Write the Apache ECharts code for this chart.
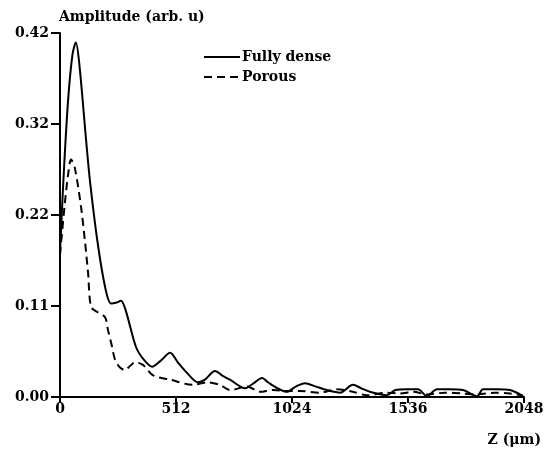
<!DOCTYPE html>
<html>
<head>
<meta charset="utf-8">
<script src="https://cdn.jsdelivr.net/npm/echarts@6/dist/echarts.min.js"></script>
<style>html,body{margin:0;padding:0;background:#fff}#c{width:551px;height:453px}</style>
</head>
<body>
<div id="c"></div>
<script>
const xTicks = [0, 512, 1024, 1536, 2048];
const yTickLabels = ['0.00', '0.11', '0.22', '0.32', '0.42'];
const seriesNames = ['Fully dense', 'Porous'];

const denseZ = [0, 15, 35, 55, 70, 85, 115, 132, 165, 199, 225, 250, 269, 290, 335, 370, 406, 445, 486, 520, 560, 609, 640, 684, 720, 750, 817, 850, 892, 918, 960, 1002, 1040, 1081, 1130, 1178, 1236, 1293, 1330, 1368, 1443, 1480, 1530, 1580, 1620, 1664, 1720, 1779, 1841, 1867, 1930, 1986, 2044];
const denseAmp = [0.166, 0.25, 0.34, 0.395, 0.409, 0.385, 0.297, 0.25, 0.18, 0.127, 0.108, 0.109, 0.111, 0.100, 0.058, 0.043, 0.035, 0.042, 0.051, 0.040, 0.028, 0.017, 0.020, 0.030, 0.024, 0.020, 0.010, 0.015, 0.022, 0.017, 0.010, 0.006, 0.012, 0.016, 0.012, 0.008, 0.005, 0.014, 0.010, 0.006, 0.002, 0.008, 0.009, 0.009, 0.001, 0.009, 0.009, 0.008, 0.001, 0.009, 0.009, 0.008, 0.001];

const porousZ = [0, 20, 35, 49, 65, 93, 110, 124, 137, 165, 199, 212, 228, 243, 265, 287, 310, 331, 366, 411, 486, 587, 649, 706, 750, 825, 883, 940, 1000, 1059, 1148, 1222, 1293, 1355, 1443, 1500, 1560, 1620, 1700, 1779, 1841, 1920, 1986, 2040];
const porousAmp = [0.164, 0.22, 0.255, 0.274, 0.265, 0.219, 0.18, 0.143, 0.104, 0.098, 0.092, 0.077, 0.060, 0.043, 0.034, 0.031, 0.036, 0.040, 0.037, 0.025, 0.020, 0.014, 0.017, 0.014, 0.008, 0.012, 0.006, 0.008, 0.007, 0.007, 0.005, 0.009, 0.006, 0.002, 0.005, 0.004, 0.006, 0.003, 0.005, 0.004, 0.003, 0.005, 0.004, 0.002];

const FONT = 'DejaVu Serif';
const FS = 14;
const yStep = 0.105;
const pairs = (xs, ys) => xs.map((x, i) => [x, ys[i]]);
const txt = { fontFamily: FONT, fontWeight: 'bold', fontSize: FS, color: '#000' };

const chart = echarts.init(document.getElementById('c'));
chart.setOption({
  animation: false,
  backgroundColor: '#fff',
  textStyle: { fontFamily: FONT, fontWeight: 'bold', color: '#000' },
  title: [
    { text: 'Amplitude (arb. u)', left: 54, top: 5, textStyle: txt },
    { text: 'Z (μm)', right: 5, top: 428, textStyle: txt }
  ],
  legend: {
    orient: 'vertical', left: 198, top: 45, itemWidth: 36, itemHeight: 10, itemGap: 6,
    data: seriesNames,
    itemStyle: { opacity: 0 },
    textStyle: Object.assign({}, txt, { padding: [0, 0, 0, -3] })
  },
  grid: { left: 60, right: 27, top: 33, bottom: 56, containLabel: false },
  xAxis: {
    type: 'value', min: xTicks[0], max: xTicks[xTicks.length - 1], interval: 512,
    axisLine: { lineStyle: { color: '#000', width: 2 } },
    axisTick: { length: 6, lineStyle: { color: '#000', width: 2 } },
    axisLabel: Object.assign({ margin: 5, formatter: v => String(v) }, txt),
    splitLine: { show: false }
  },
  yAxis: {
    type: 'value', min: 0, max: yStep * 4, interval: yStep,
    axisLine: { show: true, lineStyle: { color: '#000', width: 2 } },
    axisTick: { show: true, length: 9, lineStyle: { color: '#000', width: 2 } },
    axisLabel: Object.assign({ margin: 11, formatter: v => yTickLabels[Math.round(v / yStep)] }, txt),
    splitLine: { show: false }
  },
  series: [
    { name: seriesNames[0], type: 'line', data: pairs(denseZ, denseAmp), smooth: 0.3,
      symbol: 'none', lineStyle: { color: '#000', width: 2, type: 'solid' }, itemStyle: { color: '#000' } },
    { name: seriesNames[1], type: 'line', data: pairs(porousZ, porousAmp), smooth: 0.3,
      symbol: 'none', lineStyle: { color: '#000', width: 2, type: [8, 5] }, itemStyle: { color: '#000' } }
  ]
});
</script>
</body>
</html>
